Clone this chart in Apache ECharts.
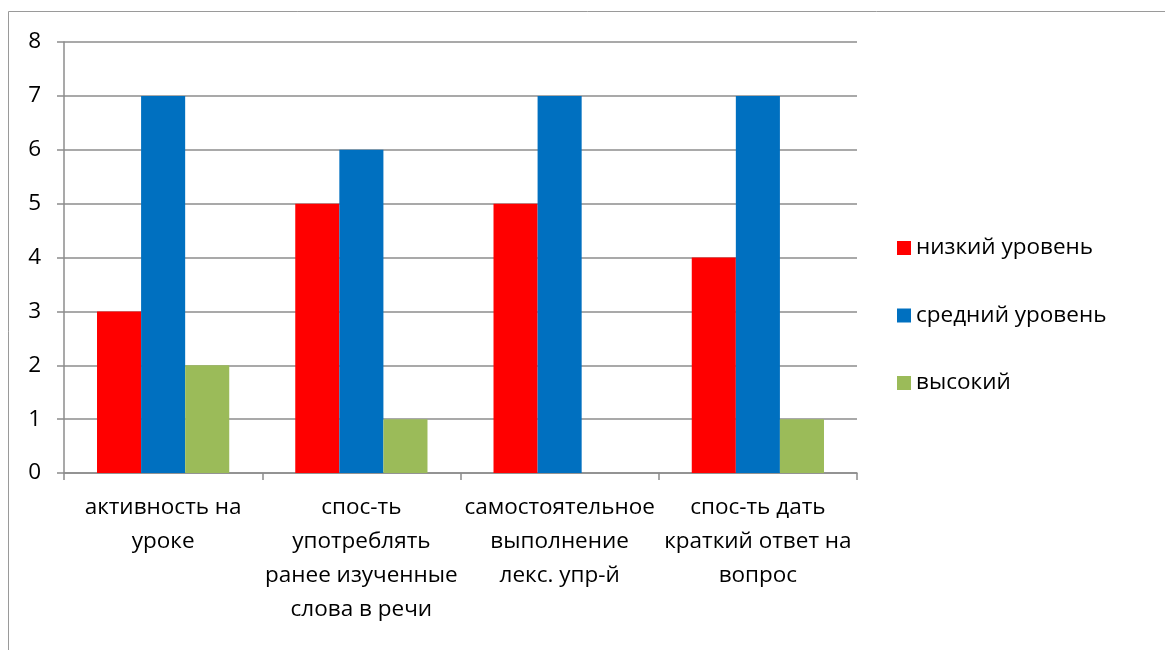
<!DOCTYPE html>
<html>
<head>
<meta charset="utf-8">
<script src="https://cdn.jsdelivr.net/npm/echarts@6/dist/echarts.min.js"></script>
<style>
  html, body { margin: 0; padding: 0; background: #fff; }
  #chart { width: 1165px; height: 650px; }
</style>
</head>
<body>
<div id="chart"></div>
<script>
// Skill categories (line breaks as they wrap under the axis)
const categories = [
  'активность на\nуроке',
  'спос-ть\nупотреблять\nранее изученные\nслова в речи',
  'самостоятельное\nвыполнение\nлекс. упр-й',
  'спос-ть дать\nкраткий ответ на\nвопрос'
];
const seriesNames = ['низкий уровень', 'средний уровень', 'высокий'];
const lowLevel = [3, 5, 5, 4];
const midLevel = [7, 6, 7, 7];
const highLevel = [2, 1, null, 1];
const seriesColors = ['#FF0000', '#0070C0', '#9BBB59'];

const FONT = '"Open Sans", "Noto Sans", sans-serif';
const FONT_SIZE = 22.5;
const GRID_GRAY = '#8C8C8C';

const chart = echarts.init(document.getElementById('chart'), null, { renderer: 'canvas' });

const values = [lowLevel, midLevel, highLevel];
const series = seriesNames.map((name, i) => ({
  name: name,
  type: 'bar',
  data: values[i],
  itemStyle: { color: seriesColors[i] },
  barGap: '0%',
  barCategoryGap: '33.3%'
}));

chart.setOption({
  animation: false,
  backgroundColor: '#fff',
  graphic: [{
    type: 'rect',
    shape: { x: 8.5, y: 11.5, width: 1200, height: 700 },
    style: { fill: 'none', stroke: '#9A9A9A', lineWidth: 1 },
    silent: true,
    z: -10
  }],
  grid: { left: 64, right: 308, top: 42, bottom: 177, containLabel: false },
  legend: {
    orient: 'vertical',
    left: 892,
    top: 230,
    itemWidth: 14,
    itemHeight: 14,
    itemGap: 41.5,
    icon: 'rect',
    data: seriesNames,
    textStyle: { fontFamily: FONT, fontSize: FONT_SIZE, color: '#000', lineHeight: 26 }
  },
  xAxis: {
    type: 'category',
    data: categories,
    axisLine: { lineStyle: { color: GRID_GRAY, width: 1.5 } },
    axisTick: { show: true, length: 7, alignWithLabel: false, lineStyle: { color: GRID_GRAY, width: 1.5 } },
    axisLabel: {
      interval: 0,
      margin: 18,
      fontFamily: FONT,
      fontSize: FONT_SIZE,
      lineHeight: 34,
      color: '#000',
      align: 'center'
    }
  },
  yAxis: {
    type: 'value',
    min: 0,
    max: 8,
    interval: 1,
    axisLine: { show: true, lineStyle: { color: GRID_GRAY, width: 1.5 } },
    axisTick: { show: true, length: 7, lineStyle: { color: GRID_GRAY, width: 1.5 } },
    splitLine: { show: true, lineStyle: { color: GRID_GRAY, width: 1.5 } },
    axisLabel: { margin: 23, fontFamily: FONT, fontSize: FONT_SIZE, color: '#000' }
  },
  series: series
});
</script>
</body>
</html>
